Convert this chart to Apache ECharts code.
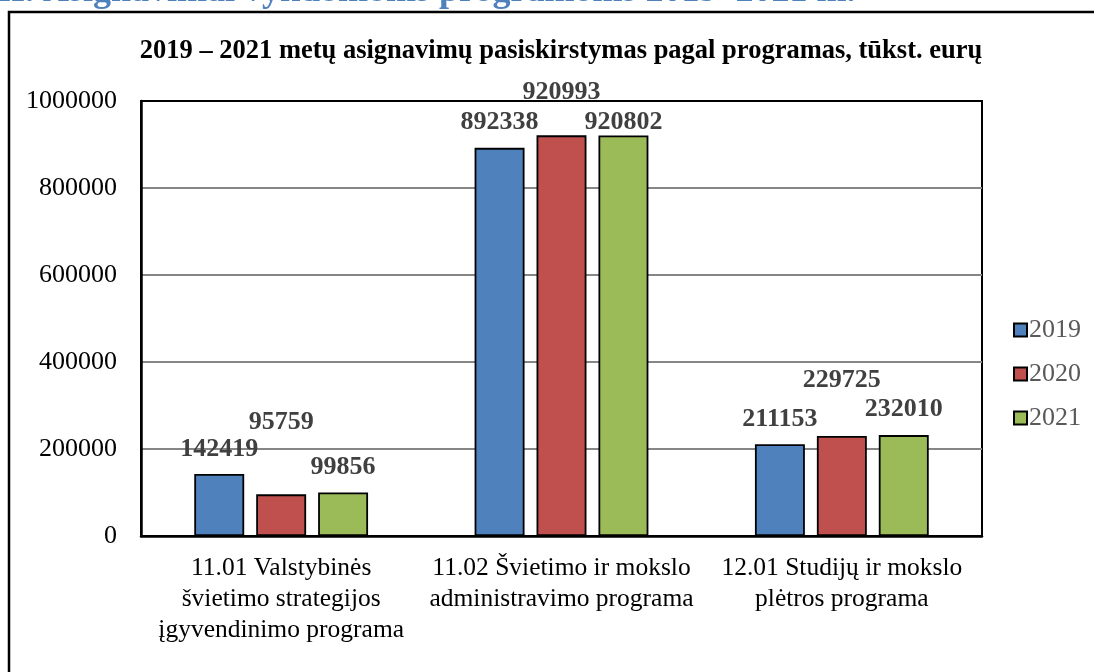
<!DOCTYPE html>
<html>
<head>
<meta charset="utf-8">
<script src="https://cdn.jsdelivr.net/npm/echarts@6/dist/echarts.min.js"></script>
<style>
  html, body { margin: 0; padding: 0; background: #fff; }
  #chart { width: 1094px; height: 672px; }
</style>
</head>
<body>
<div id="chart"></div>
<script>
// Programų pavadinimai (kategorijos)
const categories = [
  '11.01 Valstybinės\nšvietimo strategijos\nįgyvendinimo programa',
  '11.02 Švietimo ir mokslo\nadministravimo programa',
  '12.01 Studijų ir mokslo\nplėtros programa'
];

// Metai ir asignavimai, tūkst. eurų
const years = ['2019', '2020', '2021'];
const values2019 = [142419, 892338, 211153];
const values2020 = [95759, 920993, 229725];
const values2021 = [99856, 920802, 232010];

// Y ašies žymos
const yTicks = [0, 200000, 400000, 600000, 800000, 1000000];

// Reikšmių užrašų pakėlimas virš stulpelio (px)
const labelLift2019 = [12, 13, 12];
const labelLift2020 = [59, 30, 43];
const labelLift2021 = [12, 0, 13];

const colors = ['#4F81BD', '#C0504D', '#9BBB59'];
const serif = '"Liberation Serif", "Times New Roman", serif';

function makeSeries(name, values, lifts, color) {
  return {
    name: name,
    type: 'bar',
    barCategoryGap: '38%',
    barGap: '24%',
    itemStyle: { color: color, borderColor: '#000', borderWidth: 1.8 },
    data: values.map((v, i) => ({
      value: v,
      label: { distance: lifts[i] }
    })),
    label: {
      show: true,
      position: 'top',
      fontFamily: serif,
      fontSize: 26,
      fontWeight: 'bold',
      color: '#404040'
    }
  };
}

const chart = echarts.init(document.getElementById('chart'));
chart.setOption({
  animation: false,
  backgroundColor: '#fff',
  color: colors,
  title: {
    text: '2019 – 2021 metų asignavimų pasiskirstymas pagal programas, tūkst. eurų',
    left: 556,
    textAlign: 'center',
    top: 33,
    textStyle: { fontFamily: serif, fontSize: 26.5, fontWeight: 'bold', color: '#000' }
  },
  graphic: [
    {
      type: 'text',
      left: -3,
      top: -26,
      style: {
        text: 'II. Asignavimai vykdomoms programoms 2019–2021 m.',
        fontFamily: serif,
        fontSize: 36,
        fontWeight: 'bold',
        fill: '#4F81BD'
      }
    },
    {
      type: 'rect',
      shape: { x: 9, y: 12, width: 1200, height: 800 },
      style: { fill: 'none', stroke: '#000', lineWidth: 2.5 },
      z: -1
    }
  ],
  legend: {
    orient: 'vertical',
    left: 1008,
    top: 312,
    itemWidth: 13,
    itemHeight: 13,
    itemGap: 18,
    icon: 'rect',
    data: years,
    textStyle: { fontFamily: serif, fontSize: 26, color: '#595959', padding: [0, 0, 0, -3] }
  },
  grid: {
    left: 141,
    right: 112,
    top: 101,
    bottom: 136,
    show: true,
    borderColor: '#000',
    borderWidth: 2,
    backgroundColor: 'transparent'
  },
  xAxis: {
    type: 'category',
    data: categories,
    axisLine: { lineStyle: { color: '#000', width: 2.5 } },
    axisTick: { show: false },
    axisLabel: {
      fontFamily: serif,
      fontSize: 25.5,
      lineHeight: 31,
      color: '#000',
      margin: 17,
      interval: 0
    }
  },
  yAxis: {
    type: 'value',
    min: yTicks[0],
    max: yTicks[yTicks.length - 1],
    interval: yTicks[1] - yTicks[0],
    axisLine: { show: true, lineStyle: { color: '#000', width: 2.5 } },
    axisTick: { show: false },
    axisLabel: {
      fontFamily: serif,
      fontSize: 26,
      color: '#000',
      margin: 24,
      formatter: (v) => String(v)
    },
    splitLine: {
      lineStyle: {
        color: ['#000', '#868686', '#868686', '#868686', '#868686', '#000'],
        width: 2
      }
    }
  },
  series: [
    makeSeries(years[0], values2019, labelLift2019, colors[0]),
    makeSeries(years[1], values2020, labelLift2020, colors[1]),
    makeSeries(years[2], values2021, labelLift2021, colors[2])
  ]
});
</script>
</body>
</html>
